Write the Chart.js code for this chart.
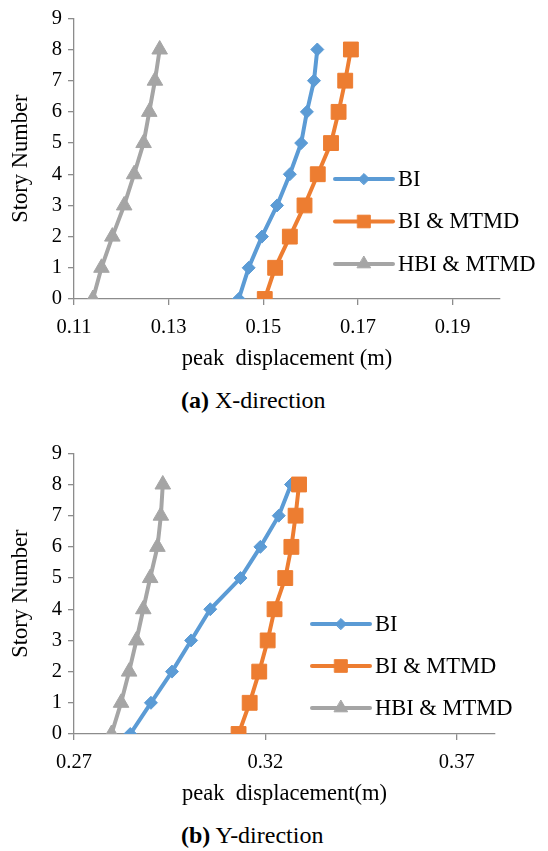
<!DOCTYPE html>
<html>
<head>
<meta charset="utf-8">
<script src="https://cdn.jsdelivr.net/npm/chart.js@4.4.1/dist/chart.umd.min.js"></script>
<style>
  html, body { margin: 0; padding: 0; background: #fff; }
  body { width: 548px; height: 851px; position: relative; overflow: hidden; }
  canvas.chart { position: absolute; left: 0; }
  .caption {
    position: absolute; left: 181px; margin: 0;
    font-family: 'Liberation Serif', 'Times New Roman', serif;
    font-size: 24px; line-height: 24px; color: #000; white-space: nowrap;
  }
</style>
</head>
<body>
<canvas id="chartX" class="chart" width="548" height="380" style="top:0px"></canvas>
<p class="caption" style="top:388px"><b>(a)</b> X-direction</p>
<canvas id="chartY" class="chart" width="548" height="380" style="top:435px"></canvas>
<p class="caption" style="top:823px"><b>(b)</b> Y-direction</p>

<script>
// story numbers and axis ticks
const stories = [0, 1, 2, 3, 4, 5, 6, 7, 8];
const storyTicks = [0, 1, 2, 3, 4, 5, 6, 7, 8, 9];
const seriesNames = ['BI', 'BI & MTMD', 'HBI & MTMD'];

// (a) X-direction peak displacement (m)
const xDirBI = [0.1448, 0.1469, 0.1497, 0.1529, 0.1556, 0.1580, 0.1592, 0.1607, 0.1614];
const xDirBIMTMD = [0.1503, 0.1525, 0.1556, 0.1587, 0.1615, 0.1643, 0.1659, 0.1673, 0.1685];
const xDirHBIMTMD = [0.1140, 0.1158, 0.1181, 0.1206, 0.1227, 0.1247, 0.1259, 0.1271, 0.1281];
const xDirTicks = [0.11, 0.13, 0.15, 0.17, 0.19];

// (b) Y-direction peak displacement (m)
const yDirBI = [0.2847, 0.2901, 0.2956, 0.3006, 0.3056, 0.3135, 0.3187, 0.3235, 0.3267];
const yDirBIMTMD = [0.3130, 0.3159, 0.3184, 0.3206, 0.3224, 0.3252, 0.3268, 0.3279, 0.3288];
const yDirHBIMTMD = [0.2798, 0.2823, 0.2844, 0.2863, 0.2881, 0.2899, 0.2918, 0.2927, 0.2932];
const yDirTicks = [0.27, 0.32, 0.37];

const SERIF = "'Liberation Serif', 'Times New Roman', serif";
const AXIS = '#8c8c8c';
const styles = [
    { color: '#5B9BD5', pointStyle: 'rectRot', radius: 6.5 },
    { color: '#ED7D31', pointStyle: 'rect', radius: 10.5 },
    { color: '#A5A5A5', pointStyle: 'triangle', radius: 9 }
];

// legend drawn next to the lines, like the Excel original
const sideLegend = {
    id: 'sideLegend',
    afterDraw(chart, args, opts) {
        const ctx = chart.ctx;
        chart.data.datasets.forEach((ds, i) => {
            const y = opts.y + i * opts.gap;
            ctx.save();
            ctx.strokeStyle = ds.borderColor;
            ctx.lineWidth = ds.borderWidth;
            ctx.lineCap = 'round';
            ctx.beginPath();
            ctx.moveTo(opts.x, y);
            ctx.lineTo(opts.x + opts.len, y);
            ctx.stroke();
            ctx.fillStyle = ds.pointBackgroundColor;
            ctx.strokeStyle = ds.pointBorderColor;
            ctx.lineWidth = 1;
            Chart.helpers.drawPoint(ctx, {
                pointStyle: ds.pointStyle,
                radius: ds.pointRadius * 0.85,
                rotation: 0,
                borderWidth: 1
            }, opts.x + opts.len / 2, y);
            ctx.fillStyle = '#000';
            ctx.font = '22.5px ' + SERIF;
            ctx.textBaseline = 'middle';
            ctx.textAlign = 'left';
            ctx.fillText(ds.label, opts.x + opts.len + 5, y + 1);
            ctx.restore();
        });
    }
};

function makeChart(id, series, xMin, xMax, xTicks, xTitle, rightPad, legendPos) {
    const datasets = series.map((vals, i) => ({
        label: seriesNames[i],
        data: vals.map((v, k) => ({ x: v, y: stories[k] })),
        borderColor: styles[i].color,
        backgroundColor: styles[i].color,
        pointBackgroundColor: styles[i].color,
        pointBorderColor: styles[i].color,
        pointStyle: styles[i].pointStyle,
        pointRadius: styles[i].radius,
        pointBorderWidth: 1,
        borderWidth: 4,
        tension: 0,
        order: 3 - i
    }));

    return new Chart(document.getElementById(id), {
        type: 'line',
        data: { datasets: datasets },
        plugins: [sideLegend],
        options: {
            responsive: false,
            devicePixelRatio: 1,
            animation: false,
            layout: { padding: { top: 15, right: rightPad, bottom: 0, left: 0 } },
            scales: {
                x: {
                    type: 'linear',
                    min: xMin,
                    max: xMax,
                    afterBuildTicks: (scale) => { scale.ticks = xTicks.map(v => ({ value: v })); },
                    afterFit: (scale) => { scale.height = 81; },
                    grid: { display: true, drawOnChartArea: false, drawTicks: true, tickLength: 6, color: AXIS, lineWidth: 1.3 },
                    border: { display: true, color: AXIS, width: 1.3 },
                    ticks: {
                        color: '#000',
                        padding: 10,
                        maxRotation: 0,
                        font: { family: SERIF, size: 20.5 },
                        callback: (v) => v.toFixed(2)
                    },
                    title: {
                        display: true,
                        text: xTitle,
                        color: '#000',
                        font: { family: SERIF, size: 22.5 },
                        padding: { top: 0, bottom: 7 }
                    }
                },
                y: {
                    type: 'linear',
                    min: 0,
                    max: 9,
                    afterBuildTicks: (scale) => { scale.ticks = storyTicks.map(v => ({ value: v })); },
                    afterFit: (scale) => { scale.width = 74; },
                    grid: { display: true, drawOnChartArea: false, drawTicks: true, tickLength: 6, color: AXIS, lineWidth: 1.3 },
                    border: { display: true, color: AXIS, width: 1.3 },
                    ticks: {
                        color: '#000',
                        padding: 6,
                        font: { family: SERIF, size: 20.5 }
                    },
                    title: {
                        display: true,
                        text: 'Story Number',
                        color: '#000',
                        font: { family: SERIF, size: 22.5 },
                        padding: { top: 8, bottom: 0 }
                    }
                }
            },
            plugins: {
                legend: { display: false },
                tooltip: { enabled: false },
                sideLegend: legendPos
            }
        }
    });
}

Chart.defaults.font.family = SERIF;
makeChart('chartX', [xDirBI, xDirBIMTMD, xDirHBIMTMD], 0.11, 0.20, xDirTicks,
    'peak  displacement (m)', 48, { x: 335, y: 179, gap: 42.5, len: 58 });
makeChart('chartY', [yDirBI, yDirBIMTMD, yDirHBIMTMD], 0.27, 0.38, yDirTicks,
    'peak  displacement(m)', 53, { x: 312, y: 189, gap: 42, len: 58 });
</script>
</body>
</html>
